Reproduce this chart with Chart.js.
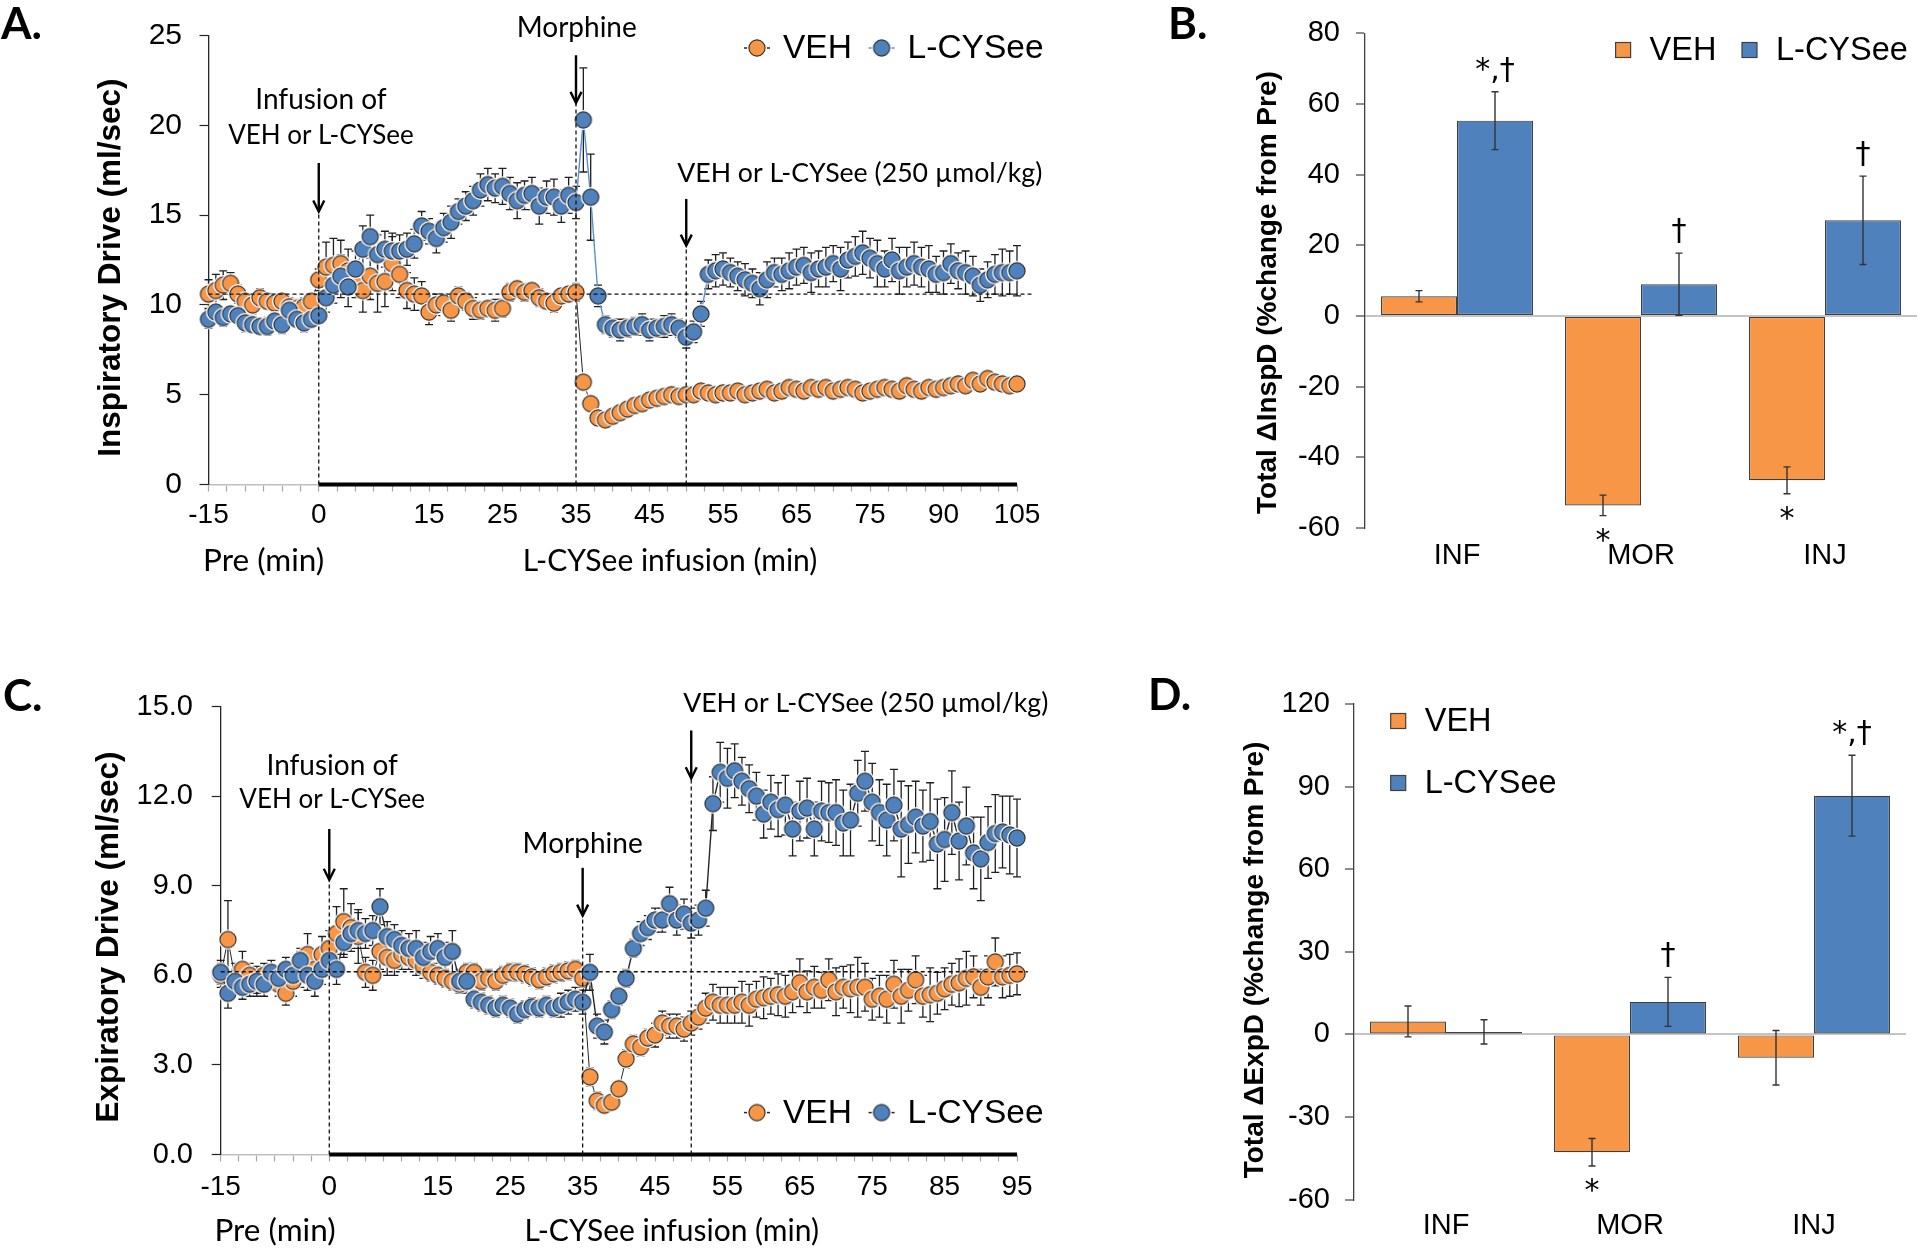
<!DOCTYPE html>
<html>
<head>
<meta charset="utf-8">
<title>Inspiratory and expiratory drive: VEH vs L-CYSee</title>
<script src="https://cdn.jsdelivr.net/npm/chart.js@4/dist/chart.umd.min.js"></script>
<style>
  html, body { margin: 0; padding: 0; background: #fff; }
  #figure { position: relative; width: 1920px; height: 1250px; overflow: hidden; }
  #figure canvas { position: absolute; }
</style>
</head>
<body>
<div id="figure">
  <canvas id="panelA" width="1080" height="600" style="left:0;top:0"></canvas>
  <canvas id="panelB" width="820" height="600" style="left:1100px;top:0"></canvas>
  <canvas id="panelC" width="1080" height="610" style="left:0;top:640px"></canvas>
  <canvas id="panelD" width="820" height="610" style="left:1100px;top:640px"></canvas>
</div>
<script>
// ---- values ----
// time course: one point per bin, 111 bins; tick labels sit on these bins
const minuteIndex = [0, 15, 30, 40, 50, 60, 70, 80, 90, 100, 110];
const minutesInsp = ['-15', '0', '15', '25', '35', '45', '55', '65', '75', '90', '105'];
const minutesExp = ['-15', '0', '15', '25', '35', '45', '55', '65', '75', '85', '95'];

// A. inspiratory drive (ml/sec)
const inspVeh = [
  10.6, 10.8, 11.1, 11.2, 10.6, 10.2, 10.0, 10.4, 10.2, 10.1, 10.2, 9.9, 9.8, 9.9, 10.2, 11.4,
  12.1, 12.2, 12.3, 11.9, 11.4, 10.8, 11.6, 11.2, 11.3, 12.3, 11.7, 10.8, 10.6, 10.5, 9.6,
  10.0, 10.1, 9.7, 10.5, 10.2, 9.8, 9.7, 9.8, 9.7, 9.8, 10.7, 10.9, 10.7, 10.8, 10.4, 10.2, 10.1, 10.5, 10.6, 10.7,
  5.7, 4.5, 3.7, 3.6, 3.8, 4.0, 4.2, 4.4, 4.5, 4.7, 4.8, 4.9, 5.0, 4.9, 5.0,
  5.0, 5.2, 5.1, 5.0, 5.1, 5.1, 5.2, 5.0, 5.1, 5.2, 5.3, 5.1, 5.2, 5.4, 5.3,
  5.2, 5.4, 5.3, 5.4, 5.2, 5.3, 5.4, 5.3, 5.1, 5.2, 5.3, 5.4, 5.3, 5.2, 5.5,
  5.3, 5.2, 5.4, 5.3, 5.4, 5.5, 5.6, 5.5, 5.8, 5.6, 5.9, 5.7, 5.6, 5.5, 5.6
];
const inspVehErr = [
  0.8, 0.9, 0.8, 0.6, 0.5, 0.4, 0.5, 0.5, 0.4, 0.5, 0.4, 0.5, 0.5, 0.5, 0.4, 0.6,
  1.4, 1.5, 1.3, 1.2, 1.0, 1.2, 1.3, 1.6, 1.4, 1.5, 1.3, 1.0, 0.9, 0.8, 0.7,
  0.6, 0.5, 0.6, 0.5, 0.5, 0.6, 0.5, 0.4, 0.6, 0.5, 0.5, 0.4, 0.5, 0.4, 0.5, 0.4, 0.5, 0.4, 0.4, 0.5,
  0.3, 0.3, 0.2, 0.2, 0.2, 0.2, 0.2, 0.2, 0.2, 0.2, 0.2, 0.2, 0.2, 0.2, 0.2,
  0.2, 0.2, 0.2, 0.2, 0.2, 0.2, 0.2, 0.2, 0.2, 0.2, 0.2, 0.2, 0.2, 0.2, 0.2,
  0.2, 0.2, 0.2, 0.2, 0.2, 0.2, 0.2, 0.2, 0.2, 0.2, 0.2, 0.2, 0.2, 0.2, 0.2,
  0.2, 0.2, 0.2, 0.2, 0.2, 0.2, 0.2, 0.2, 0.2, 0.2, 0.2, 0.2, 0.2, 0.2, 0.2
];
const inspCys = [
  9.2, 9.6, 9.3, 9.5, 9.4, 9.0, 8.9, 8.8, 8.8, 9.1, 8.9, 9.7, 9.2, 9.0, 9.2, 9.4,
  10.4, 11.1, 11.6, 11.0, 12.0, 13.1, 13.8, 12.8, 13.1, 13.0, 13.0, 13.1, 13.4, 14.4, 14.1,
  13.7, 14.3, 14.6, 15.2, 15.5, 15.8, 16.4, 16.7, 16.5, 16.6, 16.2, 15.8, 16.1, 16.2, 15.5, 16.0, 16.0, 15.5, 16.1, 15.7,
  20.3, 16.0, 10.5, 8.9, 8.7, 8.6, 8.7, 8.8, 8.9, 8.6, 8.7, 8.8, 8.9, 8.7, 8.2,
  8.5, 9.5, 11.7, 11.9, 12.0, 11.8, 11.6, 11.4, 11.2, 10.9, 11.4, 11.8, 11.7, 11.9, 12.1,
  12.2, 11.8, 12.0, 12.1, 12.3, 12.0, 12.5, 12.7, 12.9, 12.6, 12.3, 12.0, 12.5, 11.9, 12.1,
  12.3, 12.1, 12.0, 11.7, 11.8, 12.3, 11.9, 11.8, 11.6, 11.1, 11.4, 11.7, 11.8, 11.8, 11.9
];
const inspCysErr = [
  0.5, 0.4, 0.5, 0.4, 0.4, 0.5, 0.4, 0.4, 0.5, 0.4, 0.5, 0.4, 0.4, 0.5, 0.4, 0.4,
  0.8, 1.0, 1.2, 1.1, 1.0, 1.3, 1.2, 1.1, 1.0, 1.0, 0.9, 0.9, 0.8, 0.8, 0.7,
  0.8, 0.8, 0.9, 0.7, 0.8, 0.8, 0.9, 0.9, 0.8, 1.0, 0.9, 1.0, 0.8, 0.9, 1.0, 0.9, 1.0, 0.9, 1.0, 0.9,
  2.9, 2.4, 0.6, 0.5, 0.5, 0.6, 0.5, 0.5, 0.6, 0.6, 0.5, 0.6, 0.6, 0.5, 0.6,
  0.6, 0.7, 0.8, 0.9, 0.9, 0.8, 0.8, 0.9, 0.8, 0.9, 1.0, 0.8, 0.9, 1.0, 1.0,
  1.0, 1.1, 1.0, 1.1, 1.0, 1.2, 1.0, 1.1, 1.2, 1.1, 1.3, 1.0, 1.2, 1.3, 1.1,
  1.2, 1.1, 1.3, 1.0, 1.2, 1.1, 1.0, 1.2, 1.1, 0.9, 1.0, 1.1, 1.3, 1.2, 1.4
];

// C. expiratory drive (ml/sec)
const expVeh = [
  6.0, 7.2, 5.9, 6.2, 6.0, 5.8, 6.0, 5.9, 5.7, 5.4, 5.8, 6.2, 6.7, 6.2, 6.7, 6.9,
  7.4, 7.8, 7.6, 7.3, 6.1, 6.0, 6.8, 6.6, 6.5, 6.7, 6.6, 6.5, 6.3, 6.1, 6.0,
  5.9, 5.8, 5.7, 6.1, 6.1, 5.8, 5.9, 5.8, 6.0, 6.1, 6.1, 6.05, 5.95, 5.85, 5.95, 6.05, 6.1, 6.15, 6.2, 5.9,
  2.6, 1.8, 1.65, 1.75, 2.2, 3.2, 3.7, 3.6, 3.9, 4.0, 4.4, 4.3, 4.3, 4.2, 4.4,
  4.6, 4.9, 5.1, 5.0, 5.0, 5.0, 5.1, 5.0, 5.2, 5.25, 5.3, 5.35, 5.3, 5.45, 5.75,
  5.45, 5.6, 5.5, 5.85, 5.45, 5.6, 5.55, 5.6, 5.6, 5.2, 5.3, 5.2, 5.7, 5.3, 5.5,
  5.85, 5.3, 5.35, 5.4, 5.55, 5.7, 5.75, 5.9, 5.95, 5.6, 5.95, 6.45, 5.95, 6.0, 6.05
];
const expVehErr = [
  0.4, 1.3, 0.5, 0.6, 0.4, 0.5, 0.4, 0.4, 0.4, 0.4, 0.5, 0.6, 0.7, 0.5, 0.6, 0.6,
  0.9, 1.1, 0.8, 0.9, 0.5, 0.5, 0.6, 0.6, 0.5, 0.5, 0.4, 0.5, 0.4, 0.3, 0.3,
  0.3, 0.3, 0.3, 0.3, 0.3, 0.3, 0.3, 0.3, 0.3, 0.3, 0.3, 0.3, 0.3, 0.3, 0.3, 0.3, 0.3, 0.3, 0.3, 0.3,
  0.3, 0.3, 0.2, 0.2, 0.2, 0.3, 0.3, 0.3, 0.3, 0.4, 0.4, 0.4, 0.4, 0.4, 0.4,
  0.4, 0.5, 0.6, 0.6, 0.6, 0.6, 0.7, 0.7, 0.6, 0.7, 0.6, 0.7, 0.7, 0.7, 0.8,
  0.7, 0.7, 0.6, 0.7, 0.8, 0.7, 0.8, 1.0, 0.8, 0.7, 0.7, 0.8, 0.8, 0.9, 0.7,
  0.8, 0.7, 0.9, 0.7, 0.7, 0.7, 0.8, 0.9, 0.7, 0.6, 0.7, 0.8, 0.7, 0.7, 0.7
];
const expCys = [
  6.1, 5.4, 5.8, 5.6, 5.7, 5.8, 5.7, 6.1, 5.9, 6.2, 6.0, 6.5, 6.0, 5.8, 6.2, 6.5,
  6.2, 7.1, 7.4, 7.5, 7.4, 7.5, 8.3, 7.3, 7.2, 7.0, 6.9, 6.9, 6.6, 6.8, 6.9,
  6.6, 6.8, 5.8, 5.8, 5.2, 5.1, 5.0, 4.9, 5.0, 4.9, 4.7, 4.85, 4.95, 4.9, 5.0, 4.9, 5.0, 5.1, 5.2, 5.1,
  6.1, 4.3, 4.1, 4.85, 5.3, 5.9, 6.9, 7.4, 7.6, 7.85, 7.85, 8.4, 7.85, 8.05, 7.75,
  7.85, 8.25, 11.75, 12.8, 12.6, 12.85, 12.5, 12.25, 12.0, 11.4, 11.8, 11.55, 11.7, 10.9, 11.5,
  11.6, 10.9, 11.5, 11.45, 11.45, 11.1, 11.2, 12.1, 12.5, 11.8, 11.45, 11.2, 11.7, 10.9, 11.05,
  11.3, 11.0, 11.15, 10.4, 10.55, 11.45, 10.5, 11.0, 10.1, 9.9, 10.45, 10.75, 10.8, 10.7, 10.6
];
const expCysErr = [
  0.4, 0.5, 0.4, 0.4, 0.4, 0.4, 0.4, 0.4, 0.4, 0.4, 0.4, 0.4, 0.5, 0.5, 0.5, 0.4,
  0.5, 0.5, 0.5, 0.6, 0.5, 0.5, 0.6, 0.5, 0.5, 0.5, 0.5, 0.6, 0.5, 0.5, 0.5,
  0.5, 0.7, 0.4, 0.4, 0.3, 0.3, 0.3, 0.3, 0.3, 0.3, 0.3, 0.3, 0.3, 0.3, 0.3, 0.3, 0.4, 0.4, 0.4, 0.4,
  0.6, 0.4, 0.4, 0.3, 0.3, 0.3, 0.3, 0.4, 0.4, 0.4, 0.4, 0.55, 0.5, 0.5, 0.5,
  0.5, 0.6, 0.9, 1.0, 1.0, 0.9, 0.8, 0.8, 0.8, 0.8, 0.9, 0.9, 1.0, 0.9, 1.0,
  1.0, 0.9, 1.0, 1.0, 1.1, 1.1, 1.2, 1.1, 1.0, 1.3, 1.1, 1.2, 1.2, 1.6, 1.3,
  1.2, 1.2, 1.3, 1.5, 1.4, 1.4, 1.3, 1.3, 1.2, 1.4, 1.2, 1.3, 1.2, 1.3, 1.3
];

// B. / D. totals (% change from Pre)
const phases = ['INF', 'MOR', 'INJ'];
const totInspVeh = [5.6, -53.6, -46.5];
const totInspVehErr = [1.6, 2.9, 3.8];
const totInspCys = [55.3, 9.0, 27.1];
const totInspCysErr = [8.2, 8.8, 12.5];
const totInspVehSig = ['', '*', '*'];
const totInspCysSig = ['*,\u2020', '\u2020', '\u2020'];
const totExpVeh = [4.7, -42.8, -8.5];
const totExpVehErr = [5.6, 5.0, 9.9];
const totExpCys = [0.9, 11.8, 86.7];
const totExpCysErr = [4.4, 8.9, 14.7];
const totExpVehSig = ['', '*', ''];
const totExpCysSig = ['', '\u2020', '*,\u2020'];

// ---- look ----
const ORANGE = '#f79646';
const BLUE = '#4f81bd';
const SANS = '"Liberation Sans", Arial, sans-serif';
const NOTE = 'Lato, "Open Sans", sans-serif';
const MARK = '"DejaVu Sans", sans-serif';

Chart.defaults.font.family = SANS;
Chart.defaults.color = '#000';

// marker with a thin white halo, so overlapping dots show as crescents like the original
function dotImage(fill) {
  const c = document.createElement('canvas');
  c.width = 22; c.height = 22;
  const g = c.getContext('2d');
  g.fillStyle = '#fff';
  g.beginPath(); g.arc(11, 11, 10, 0, 2 * Math.PI); g.fill();
  g.fillStyle = fill; g.strokeStyle = '#2b2b2b'; g.lineWidth = 1.1;
  g.beginPath(); g.arc(11, 11, 8.1, 0, 2 * Math.PI); g.fill(); g.stroke();
  return c;
}
const dotVeh = dotImage(ORANGE);
const dotCys = dotImage(BLUE);

function label(ctx, str, x, y, font, align) {
  ctx.save();
  ctx.font = font; ctx.fillStyle = '#000';
  ctx.textAlign = align || 'center'; ctx.textBaseline = 'middle';
  ctx.fillText(str, x, y);
  ctx.restore();
}

function vlabel(ctx, str, x, y, font) {
  ctx.save();
  ctx.translate(x, y); ctx.rotate(-Math.PI / 2);
  ctx.font = font; ctx.fillStyle = '#000';
  ctx.textAlign = 'center'; ctx.textBaseline = 'middle';
  ctx.fillText(str, 0, 0);
  ctx.restore();
}

function dashed(ctx, x1, y1, x2, y2) {
  ctx.save();
  ctx.strokeStyle = '#111'; ctx.lineWidth = 1.3; ctx.setLineDash([4, 3]);
  ctx.beginPath(); ctx.moveTo(x1, y1); ctx.lineTo(x2, y2); ctx.stroke();
  ctx.restore();
}

function arrow(ctx, x, yFrom, yTip) {
  ctx.save();
  ctx.strokeStyle = '#000'; ctx.lineWidth = 2.4;
  ctx.beginPath(); ctx.moveTo(x, yFrom); ctx.lineTo(x, yTip - 1); ctx.stroke();
  ctx.beginPath(); ctx.moveTo(x - 5.5, yTip - 11); ctx.lineTo(x, yTip); ctx.lineTo(x + 5.5, yTip - 11); ctx.stroke();
  ctx.restore();
}

function drawErrors(chart, o) {
  const ctx = chart.ctx, ys = chart.scales.y;
  ctx.save();
  ctx.strokeStyle = o.color; ctx.lineWidth = o.width;
  chart.data.datasets.forEach((ds, di) => {
    chart.getDatasetMeta(di).data.forEach((el, j) => {
      const d = ds.data[j];
      const v = typeof d === 'object' ? d.y : d;
      const e = ds.errors[j];
      const top = ys.getPixelForValue(v + e), bot = ys.getPixelForValue(v - e);
      ctx.beginPath();
      ctx.moveTo(el.x, top); ctx.lineTo(el.x, bot);
      ctx.moveTo(el.x - o.cap, top); ctx.lineTo(el.x + o.cap, top);
      ctx.moveTo(el.x - o.cap, bot); ctx.lineTo(el.x + o.cap, bot);
      ctx.stroke();
    });
  });
  ctx.restore();
}

const errorBars = {
  id: 'errorBars',
  beforeDatasetsDraw(chart, args, o) { if (o.under) drawErrors(chart, o); },
  afterDatasetsDraw(chart, args, o) { if (!o.under) drawErrors(chart, o); }
};

// dashed guides, dosing arrows, infusion bar, legend and labels for A and C
const courseNotes = {
  id: 'courseNotes',
  afterDatasetsDraw(chart, args, o) {
    const ctx = chart.ctx, xs = chart.scales.x, ys = chart.scales.y;
    const y0 = ys.getPixelForValue(0);
    const yb = ys.getPixelForValue(o.baseline);
    dashed(ctx, xs.getPixelForValue(0), yb, xs.getPixelForValue(o.baselineTo), yb);
    o.doses.forEach(d => {
      const x = xs.getPixelForValue(d.at);
      dashed(ctx, x, y0, x, ys.getPixelForValue(d.tip));
    });
    ctx.save();
    ctx.strokeStyle = '#000'; ctx.lineWidth = 4;
    ctx.beginPath();
    ctx.moveTo(xs.getPixelForValue(o.infusion[0]), y0);
    ctx.lineTo(xs.getPixelForValue(o.infusion[1]), y0);
    ctx.stroke();
    ctx.restore();
  },
  afterDraw(chart, args, o) {
    const ctx = chart.ctx, xs = chart.scales.x, ys = chart.scales.y, area = chart.chartArea;
    o.doses.forEach(d => {
      const x = xs.getPixelForValue(d.at);
      arrow(ctx, x, ys.getPixelForValue(d.tail), ys.getPixelForValue(d.tip));
      d.lines.forEach((t, k) => {
        label(ctx, t, xs.getPixelForValue(d.textAt), ys.getPixelForValue(d.textY[k]), d.sizes[k] + 'px ' + NOTE);
      });
    });
    o.sub.forEach(s => label(ctx, s.text, xs.getPixelForValue(s.at), area.bottom + o.subDy, s.size + 'px ' + NOTE));

    chart.data.datasets.forEach((ds, k) => {
      const x = o.legendX[k], y = o.legendY;
      ctx.save();
      ctx.strokeStyle = ds.borderColor; ctx.lineWidth = 1.5;
      ctx.beginPath(); ctx.moveTo(x - 13, y); ctx.lineTo(x + 13, y); ctx.stroke();
      ctx.restore();
      ctx.drawImage(ds.pointStyle, x - 11, y - 11);
      label(ctx, ds.label, x + 26, y + 1, '33.5px ' + SANS, 'left');
    });

    vlabel(ctx, o.yTitle.text, o.yTitle.x, o.yTitle.y, 'bold 31.5px ' + SANS);
    label(ctx, o.letter.text, o.letter.x, o.letter.y, 'bold 44px ' + NOTE, 'left');
  }
};

// significance marks, legend and labels for B and D
const barNotes = {
  id: 'barNotes',
  afterDatasetsDraw(chart, args, o) {
    const ctx = chart.ctx, ys = chart.scales.y;
    chart.data.datasets.forEach((ds, di) => {
      chart.getDatasetMeta(di).data.forEach((bar, j) => {
        const mark = ds.marks[j];
        if (!mark) return;
        const v = ds.data[j], e = ds.errors[j];
        ctx.save();
        ctx.font = '30px ' + MARK; ctx.fillStyle = '#000';
        ctx.textAlign = 'center'; ctx.textBaseline = 'alphabetic';
        if (v >= 0) ctx.fillText(mark, bar.x, ys.getPixelForValue(v + e) - o.above);
        else ctx.fillText(mark, bar.x, ys.getPixelForValue(v - e) + o.below);
        ctx.restore();
      });
    });
  },
  afterDraw(chart, args, o) {
    const ctx = chart.ctx;
    chart.data.datasets.forEach((ds, k) => {
      const p = o.legend[k];
      ctx.save();
      ctx.fillStyle = ds.backgroundColor; ctx.strokeStyle = '#404040'; ctx.lineWidth = 1.2;
      ctx.fillRect(p.x, p.y - 7.5, 15, 15);
      ctx.strokeRect(p.x, p.y - 7.5, 15, 15);
      ctx.restore();
      label(ctx, ds.label, p.x + 34, p.y + 1, '32.5px ' + SANS, 'left');
    });
    vlabel(ctx, o.yTitle.text, o.yTitle.x, o.yTitle.y, 'bold 28px ' + SANS);
    label(ctx, o.letter.text, o.letter.x, o.letter.y, 'bold 44px ' + NOTE, 'left');
  }
};

const tickSteps = Array.from({ length: 45 }, (_, k) => k * 2.5);

function courseChart(id, cfg) {
  return new Chart(document.getElementById(id), {
    type: 'line',
    data: {
      datasets: [
        {
          label: 'VEH',
          data: cfg.veh.map((v, i) => ({ x: i, y: v })),
          errors: cfg.vehErr,
          borderColor: '#262626',
          borderWidth: 1,
          pointStyle: dotVeh,
          order: 2
        },
        {
          label: 'L-CYSee',
          data: cfg.cys.map((v, i) => ({ x: i, y: v })),
          errors: cfg.cysErr,
          borderColor: cfg.cysLine,
          borderWidth: 1.4,
          pointStyle: dotCys,
          order: 1
        }
      ]
    },
    options: {
      responsive: false,
      animation: false,
      layout: { padding: { top: cfg.top, right: cfg.right, left: 0, bottom: 0 } },
      elements: { point: { radius: 8 }, line: { tension: 0 } },
      datasets: { line: { clip: false } },
      plugins: {
        legend: { display: false },
        tooltip: { enabled: false },
        errorBars: { under: true, color: '#1f1f1f', width: 1.3, cap: 4 },
        courseNotes: cfg.notes
      },
      scales: {
        x: {
          type: 'linear', min: 0, max: 110,
          afterBuildTicks: s => { s.ticks = tickSteps.map(v => ({ value: v })); },
          afterFit: s => { s.height = cfg.xHeight; },
          ticks: {
            autoSkip: false, maxRotation: 0, padding: cfg.xPad,
            font: { size: 28 }, color: '#000',
            callback: v => {
              const k = minuteIndex.indexOf(v);
              return k < 0 ? '' : cfg.minutes[k];
            }
          },
          grid: { drawOnChartArea: false, tickLength: 7, tickColor: '#a6a6a6', tickWidth: 1.2 },
          border: { color: '#bfbfbf', width: 1.5 }
        },
        y: {
          min: 0, max: cfg.max,
          afterFit: s => { s.width = cfg.left; },
          ticks: { stepSize: cfg.step, padding: cfg.yPad, font: { size: cfg.yFont }, color: '#000', callback: cfg.fmt },
          grid: { drawOnChartArea: false, tickLength: 9, tickColor: '#262626', tickWidth: 1.2 },
          border: { color: '#262626', width: 1.3 }
        }
      }
    },
    plugins: [errorBars, courseNotes]
  });
}

function totalsChart(id, cfg) {
  return new Chart(document.getElementById(id), {
    type: 'bar',
    data: {
      labels: phases,
      datasets: [
        { label: 'VEH', data: cfg.veh, errors: cfg.vehErr, marks: cfg.vehSig, backgroundColor: ORANGE },
        { label: 'L-CYSee', data: cfg.cys, errors: cfg.cysErr, marks: cfg.cysSig, backgroundColor: BLUE }
      ]
    },
    options: {
      responsive: false,
      animation: false,
      layout: { padding: { top: cfg.top, right: cfg.right, left: 0, bottom: 0 } },
      datasets: {
        bar: { categoryPercentage: 0.826, barPercentage: 1, borderColor: '#3f3f3f', borderWidth: 1.2, borderSkipped: false }
      },
      plugins: {
        legend: { display: false },
        tooltip: { enabled: false },
        errorBars: { under: false, color: '#333', width: 1.4, cap: 3.5 },
        barNotes: cfg.notes
      },
      scales: {
        x: {
          afterFit: s => { s.height = cfg.xHeight; },
          grid: { display: false, drawTicks: false },
          border: { display: false },
          ticks: { padding: cfg.xPad, font: { size: 29 }, color: '#000' }
        },
        y: {
          min: cfg.min, max: cfg.max,
          afterFit: s => { s.width = cfg.left; },
          ticks: { stepSize: cfg.step, padding: cfg.yPad, font: { size: 29 }, color: '#000' },
          grid: {
            color: c => (c.tick && c.tick.value === 0 ? '#c4c4c4' : 'rgba(0,0,0,0)'),
            lineWidth: 2, tickColor: '#404040', tickLength: 9, tickWidth: 1.2
          },
          border: { color: '#404040', width: 1.3 }
        }
      }
    },
    plugins: [errorBars, barNotes]
  });
}

courseChart('panelA', {
  veh: inspVeh, vehErr: inspVehErr, cys: inspCys, cysErr: inspCysErr,
  cysLine: '#5b8fd0', minutes: minutesInsp,
  max: 25, step: 5, fmt: v => String(v), yFont: 30, yPad: 17.5, left: 208.5,
  top: 32.5, right: 63, xHeight: 115.5, xPad: 6.7,
  notes: {
    baseline: 10.6, baselineTo: 112, infusion: [15, 110],
    doses: [
      { at: 15, tip: 15.2, tail: 17.9, lines: ['Infusion of', 'VEH or L-CYSee'], sizes: [28, 26], textAt: 15.3, textY: [21.4, 19.4] },
      { at: 50, tip: 21.25, tail: 23.9, lines: ['Morphine'], sizes: [28], textAt: 50.1, textY: [25.4] },
      { at: 65, tip: 13.3, tail: 15.9, lines: ['VEH or L-CYSee (250 \u00b5mol/kg)'], sizes: [26.7], textAt: 88.6, textY: [17.3] }
    ],
    sub: [{ text: 'Pre (min)', at: 7.5, size: 31.5 }, { text: 'L-CYSee infusion (min)', at: 62.8, size: 30 }],
    subDy: 76.5,
    legendX: [757, 881.6], legendY: 48,
    yTitle: { text: 'Inspiratory Drive (ml/sec)', x: 111.5, y: 267.6 },
    letter: { text: 'A.', x: 1, y: 25 }
  }
});

courseChart('panelC', {
  veh: expVeh, vehErr: expVehErr, cys: expCys, cysErr: expCysErr,
  cysLine: '#262626', minutes: minutesExp,
  max: 15, step: 3, fmt: v => v.toFixed(1), yFont: 29, yPad: 18.7, left: 220.7,
  top: 66.6, right: 63, xHeight: 95.5, xPad: 9.4,
  notes: {
    baseline: 6.12, baselineTo: 111.5, infusion: [15, 110],
    doses: [
      { at: 15, tip: 9.2, tail: 10.9, lines: ['Infusion of', 'VEH or L-CYSee'], sizes: [28, 26], textAt: 15.4, textY: [13.0, 11.87] },
      { at: 50, tip: 8.0, tail: 9.6, lines: ['Morphine'], sizes: [28], textAt: 50, textY: [10.4] },
      { at: 65, tip: 12.6, tail: 14.2, lines: ['VEH or L-CYSee (250 \u00b5mol/kg)'], sizes: [26.7], textAt: 89.1, textY: [15.1] }
    ],
    sub: [{ text: 'Pre (min)', at: 7.5, size: 31.5 }, { text: 'L-CYSee infusion (min)', at: 62.3, size: 30 }],
    subDy: 76.5,
    legendX: [757, 881.6], legendY: 472.6,
    yTitle: { text: 'Expiratory Drive (ml/sec)', x: 109, y: 297 },
    letter: { text: 'C.', x: 3, y: 57 }
  }
});

totalsChart('panelB', {
  veh: totInspVeh, vehErr: totInspVehErr, vehSig: totInspVehSig,
  cys: totInspCys, cysErr: totInspCysErr, cysSig: totInspCysSig,
  min: -60, max: 80, step: 20, left: 265, right: 3, top: 33.3, xHeight: 72, xPad: 10.3, yPad: 16,
  notes: {
    above: 13, below: 34,
    legend: [{ x: 515.6, y: 50 }, { x: 642, y: 50 }],
    yTitle: { text: 'Total \u0394InspD (%change from Pre)', x: 168, y: 292.6 },
    letter: { text: 'B.', x: 68, y: 25 }
  }
});

totalsChart('panelD', {
  veh: totExpVeh, vehErr: totExpVehErr, vehSig: totExpVehSig,
  cys: totExpCys, cysErr: totExpCysErr, cysSig: totExpCysSig,
  min: -60, max: 120, step: 30, left: 254, right: 14, top: 64, xHeight: 50.4, xPad: 9.2, yPad: 15,
  notes: {
    above: 13, below: 34,
    legend: [{ x: 290.7, y: 81 }, { x: 290.7, y: 143 }],
    yTitle: { text: 'Total \u0394ExpD (%change from Pre)', x: 155.6, y: 320 },
    letter: { text: 'D.', x: 48, y: 56 }
  }
});
</script>
</body>
</html>
